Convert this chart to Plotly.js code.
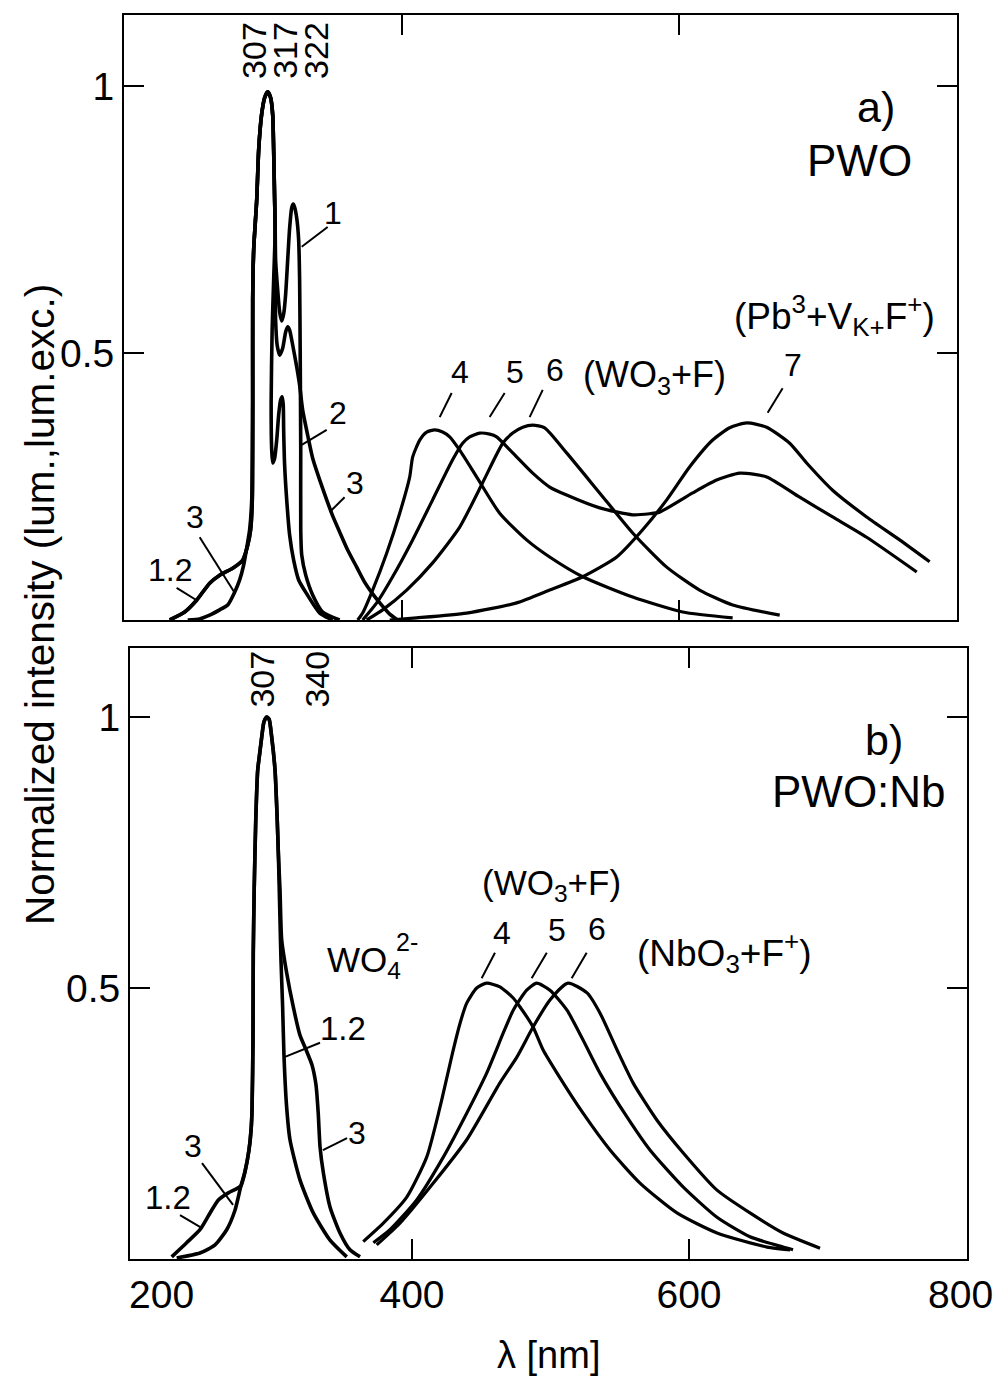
<!DOCTYPE html>
<html>
<head>
<meta charset="utf-8">
<script src="https://cdn.plot.ly/plotly-3.0.1.min.js"></script>
<style>html,body{margin:0;padding:0;background:#fff;} #chart{width:997px;height:1381px;}</style>
</head>
<body>
<div id="chart"></div>
<script>
// ---------- Panel a) PWO : wavelength (nm) / normalized intensity ----------
const topC1X = [232.9,243.7,252.3,261.7,268.9,278.3,285.5,289.1,291.2,292.4,292.7,292.7,293.4,295.6,297.0,299.1,301.3,303.5,305.6,307.1,307.8,308.5,308.9,309.2,310.7,312.1,313.6,315.0,316.4,317.9,319.3,320.8,321.9,322.9,324.4,325.8,326.5,326.9,327.3,327.3,328.0,330.9,335.9,343.1,355.3];
const topC1Y = [0,0.015,0.037,0.069,0.084,0.097,0.112,0.140,0.169,0.225,0.412,0.599,0.693,0.787,0.880,0.946,0.978,0.989,0.978,0.946,0.880,0.787,0.730,0.674,0.618,0.577,0.560,0.573,0.609,0.674,0.734,0.772,0.779,0.773,0.753,0.712,0.637,0.506,0.318,0.169,0.122,0.084,0.047,0.015,0];

const topC2X = [232.9,243.7,252.3,261.7,268.9,278.3,285.5,289.1,291.2,292.4,292.7,292.7,293.4,295.6,297.0,299.1,301.3,303.5,305.6,307.1,307.8,308.5,308.9,307.8,306.7,306.0,306.4,307.1,308.5,310.0,311.4,312.8,313.9,314.7,315.0,315.7,317.2,319.3,322.2,325.8,331.6,341.0,350.3];
const topC2Y = [0,0.015,0.037,0.069,0.084,0.097,0.112,0.140,0.169,0.225,0.412,0.599,0.693,0.787,0.880,0.946,0.978,0.989,0.978,0.946,0.880,0.787,0.730,0.637,0.543,0.412,0.318,0.294,0.303,0.337,0.384,0.412,0.418,0.403,0.356,0.290,0.225,0.159,0.112,0.075,0.049,0.013,0];

const topC3X = [245.9,254.5,261.7,268.9,274.7,279.7,283.3,286.2,288.4,290.5,292.0,292.7,292.7,293.4,295.6,297.0,299.1,301.3,303.5,305.6,307.1,307.8,308.5,308.9,308.9,309.2,310.3,312.1,314.3,316.4,317.9,319.3,321.5,324.4,326.5,328.7,332.3,335.9,341.0,346.0,350.3,355.3,361.1,367.6,373.3,379.1,385.6,391.4,397.1];
const topC3Y = [0,0.002,0.009,0.019,0.028,0.052,0.075,0.103,0.135,0.169,0.225,0.412,0.599,0.693,0.787,0.880,0.946,0.978,0.989,0.978,0.946,0.880,0.787,0.730,0.637,0.562,0.515,0.496,0.509,0.539,0.549,0.543,0.515,0.474,0.440,0.393,0.346,0.303,0.262,0.225,0.195,0.165,0.131,0.099,0.071,0.049,0.028,0.011,0];

const topC4X = [368.3,371.9,379.1,389.2,398.6,405.8,407.9,413.0,418.0,423.8,429.5,434.6,441.8,454.0,470.6,490.0,506.6,530.4,566.4,602.4,638.4];
const topC4Y = [0,0.013,0.056,0.125,0.200,0.268,0.305,0.337,0.352,0.356,0.352,0.343,0.318,0.268,0.200,0.150,0.118,0.081,0.043,0.015,0.004];

const topC5X = [371.9,382.0,393.5,407.9,422.3,436.7,443.9,449.0,456.2,463.4,468.4,480.0,494.4,506.6,518.8,542.6,566.4,578.6,585.8,609.6,626.9,643.5,662.9,686.7,710.4,734.9,771.0];
const topC5Y = [0,0.032,0.081,0.150,0.225,0.300,0.331,0.343,0.350,0.348,0.343,0.313,0.275,0.249,0.234,0.210,0.197,0.199,0.202,0.238,0.262,0.275,0.268,0.230,0.193,0.155,0.090];

const topC6X = [374.8,386.3,403.6,422.3,441.8,458.3,472.8,480.0,487.2,494.4,503.0,518.8,542.6,566.4,590.9,614.6,638.4,672.3];
const topC6Y = [0,0.019,0.056,0.107,0.174,0.257,0.331,0.350,0.361,0.365,0.360,0.313,0.238,0.163,0.099,0.056,0.028,0.009];

const topC7X = [391.4,410.8,446.8,482.8,506.6,530.4,554.9,573.6,590.9,607.5,624.0,636.3,648.5,662.9,679.5,691.7,710.4,734.9,758.7,780.3];
const topC7Y = [0,0.004,0.013,0.032,0.056,0.081,0.118,0.169,0.225,0.287,0.337,0.360,0.369,0.361,0.331,0.294,0.243,0.193,0.150,0.109];

// ---------- Panel b) PWO:Nb ----------
const botC12X = [226.5,237.3,246.9,254.2,260.2,267.4,272.9,276.5,279.4,282.3,283.8,284.5,285.2,285.4,286.1,287.2,288.6,289.9,291.5,293.1,295.1,296.8,298.7,301.1,302.7,303.5,304.0,304.7,305.4,306.6,307.6,309.5,311.9,319.1,328.7,340.8,352.9];
const botC12Y = [0.004,0.030,0.054,0.085,0.109,0.122,0.129,0.135,0.161,0.201,0.238,0.275,0.404,0.565,0.686,0.810,0.902,0.930,0.963,0.991,1.0,0.996,0.963,0.902,0.810,0.749,0.699,0.625,0.552,0.465,0.373,0.280,0.220,0.146,0.085,0.035,0.004];

const botC3X = [230.1,246.9,257.8,266.2,272.2,276.5,279.4,282.3,283.8,284.5,285.2,285.4,286.1,287.2,288.6,289.9,291.5,293.1,295.1,296.8,298.7,301.1,302.7,303.5,304.7,305.9,309.5,314.3,319.1,323.5,327.8,330.7,332.3,333.6,336.0,340.8,348.0,355.2,362.5];
const botC3Y = [0.002,0.011,0.026,0.054,0.090,0.135,0.161,0.201,0.238,0.275,0.404,0.565,0.686,0.810,0.902,0.930,0.963,0.991,1.0,0.996,0.963,0.902,0.810,0.749,0.681,0.589,0.528,0.465,0.413,0.386,0.358,0.321,0.269,0.207,0.159,0.096,0.048,0.017,0.004];

const botC4X = [364.8,379.3,396.2,410.6,420.2,429.8,434.7,439.5,446.7,453.9,463.5,472.9,478.0,487.4,494.6,504.7,523.5,543.0,564.6,591.3,620.2,656.3,672.9];
const botC4Y = [0.032,0.066,0.114,0.188,0.280,0.386,0.435,0.472,0.500,0.509,0.502,0.482,0.465,0.428,0.386,0.343,0.269,0.201,0.140,0.085,0.048,0.022,0.017];

const botC5X = [372.1,384.1,403.4,422.6,439.5,453.9,465.9,473.1,482.8,490.0,499.6,511.9,523.5,535.7,555.2,571.8,595.7,620.2,644.0,667.9,675.1];
const botC5Y = [0.030,0.054,0.109,0.188,0.269,0.343,0.417,0.459,0.496,0.509,0.496,0.459,0.404,0.343,0.262,0.201,0.133,0.077,0.041,0.022,0.017];

const botC6X = [374.5,391.3,415.4,439.5,463.5,475.8,487.4,499.6,512.6,526.4,535.7,548.0,559.6,576.9,595.7,620.2,644.0,667.9,694.6];
const botC6Y = [0.026,0.066,0.140,0.220,0.325,0.373,0.428,0.478,0.509,0.491,0.454,0.386,0.325,0.256,0.196,0.127,0.085,0.048,0.020];

// tick labels
const xTickValsTop = [200, 400, 600, 800];
const xTickValsBot = [400, 600, 800];
const xTickTextBot = ['400', '600', ''];
// the edge labels 200 / 800 sit inside the frame in the original; drawn as text next to the axis
const xEdgeLabels = ['200', '800'];
const xEdgeLabelPos = [218.8, 795.7];
const yTickVals = [0.5, 1];
const yTickText = ['0.5', '1'];

// ---------- traces ----------
const FONT = 'Liberation Sans, Arial, Helvetica, sans-serif';
function tr(x, y, xa, ya, w) {
  return {x: x, y: y, xaxis: xa, yaxis: ya, mode: 'lines', hoverinfo: 'skip',
          line: {color: '#000', width: w, shape: 'spline', smoothing: 0.6}};
}
const data = [
  tr(topC1X, topC1Y, 'x', 'y', 3.6),
  tr(topC2X, topC2Y, 'x', 'y', 3.6),
  tr(topC3X, topC3Y, 'x', 'y', 3.6),
  tr(topC4X, topC4Y, 'x', 'y', 3.2),
  tr(topC5X, topC5Y, 'x', 'y', 3.2),
  tr(topC6X, topC6Y, 'x', 'y', 3.2),
  tr(topC7X, topC7Y, 'x', 'y', 3.2),
  tr(botC12X, botC12Y, 'x2', 'y2', 3.6),
  tr(botC3X, botC3Y, 'x2', 'y2', 3.6),
  tr(botC4X, botC4Y, 'x2', 'y2', 3.2),
  tr(botC5X, botC5Y, 'x2', 'y2', 3.2),
  tr(botC6X, botC6Y, 'x2', 'y2', 3.2)
];

// ---------- annotations ----------
function lab(text, x, y, xr, yr, size, rot) {
  return {text: text, x: x, y: y, xref: xr, yref: yr, showarrow: false,
          xanchor: 'center', yanchor: 'middle', textangle: rot || 0,
          font: {family: FONT, size: size, color: '#000'}};
}
const annotations = [
  lab('307', 294.1, 1.067, 'x', 'y', 34, -90),
  lab('317', 316.4, 1.067, 'x', 'y', 34, -90),
  lab('322', 338.8, 1.067, 'x', 'y', 34, -90),
  lab('1', 350.3, 0.762, 'x', 'y', 32),
  lab('2', 353.9, 0.388, 'x', 'y', 32),
  lab('3', 366.1, 0.257, 'x', 'y', 32),
  lab('3', 250.9, 0.193, 'x', 'y', 32),
  lab('1.2', 232.9, 0.094, 'x', 'y', 32),
  lab('4', 441.8, 0.464, 'x', 'y', 32),
  lab('5', 481.4, 0.464, 'x', 'y', 32),
  lab('6', 510.2, 0.468, 'x', 'y', 32),
  lab('(WO<sub>3</sub>+F)', 582.2, 0.455, 'x', 'y', 36),
  lab('7', 681.6, 0.478, 'x', 'y', 32),
  lab('(Pb<sup>3</sup>+V<sub>K+</sub>F<sup>+</sup>)', 711.9, 0.571, 'x', 'y', 37),
  lab('a)', 741.4, 0.961, 'x', 'y', 43),
  lab('PWO', 729.9, 0.860, 'x', 'y', 44),

  lab('307', 292.1, 1.070, 'x2', 'y2', 34, -90),
  lab('340', 331.8, 1.070, 'x2', 'y2', 34, -90),
  lab('b)', 740.8, 0.958, 'x2', 'y2', 43),
  lab('PWO:Nb', 722.7, 0.862, 'x2', 'y2', 44),
  lab('(WO<sub>3</sub>+F)', 500.4, 0.690, 'x2', 'y2', 35),
  lab('4', 465.0, 0.601, 'x2', 'y2', 32),
  lab('5', 504.7, 0.607, 'x2', 'y2', 32),
  lab('6', 533.6, 0.609, 'x2', 'y2', 32),
  lab('(NbO<sub>3</sub>+F<sup>+</sup>)', 625.3, 0.565, 'x2', 'y2', 37),
  lab('WO<sub>4</sub>', 365.3, 0.548, 'x2', 'y2', 35),
  lab('2-', 396.5, 0.585, 'x2', 'y2', 25),
  lab('1.2', 350.2, 0.426, 'x2', 'y2', 33),
  lab('3', 360.3, 0.232, 'x2', 'y2', 32),
  lab('3', 241.9, 0.208, 'x2', 'y2', 32),
  lab('1.2', 223.8, 0.114, 'x2', 'y2', 33),

  lab(xEdgeLabels[0], xEdgeLabelPos[0], -0.0289, 'x2', 'paper', 39),
  lab(xEdgeLabels[1], xEdgeLabelPos[1], -0.0289, 'x2', 'paper', 39),

  lab('Normalized intensity (lum.,lum.exc.)', -0.0996, 0.5257, 'paper', 'paper', 40.5, -90),
  lab('\u03bb [nm]', 0.503, -0.0772, 'paper', 'paper', 38)
];

// ---------- leader lines ----------
function ln(x0, y0, x1, y1, xr, yr) {
  return {type: 'line', x0: x0, y0: y0, x1: x1, y1: y1, xref: xr, yref: yr,
          line: {color: '#000', width: 2}};
}
const shapes = [
  ln(328.0, 0.699, 346.7, 0.736, 'x', 'y'),
  ln(328.0, 0.328, 346.0, 0.356, 'x', 'y'),
  ln(348.1, 0.202, 358.9, 0.230, 'x', 'y'),
  ln(254.5, 0.155, 279.7, 0.051, 'x', 'y'),
  ln(237.9, 0.060, 252.3, 0.037, 'x', 'y'),
  ln(427.4, 0.380, 436.0, 0.425, 'x', 'y'),
  ln(463.4, 0.380, 474.2, 0.425, 'x', 'y'),
  ln(492.2, 0.380, 501.6, 0.431, 'x', 'y'),
  ln(663.6, 0.388, 674.4, 0.434, 'x', 'y'),
  ln(450.3, 0.518, 459.9, 0.565, 'x2', 'y2'),
  ln(486.4, 0.518, 497.3, 0.565, 'x2', 'y2'),
  ln(515.3, 0.518, 526.1, 0.565, 'x2', 'y2'),
  ln(308.3, 0.373, 333.6, 0.399, 'x2', 'y2'),
  ln(335.7, 0.201, 353.1, 0.223, 'x2', 'y2'),
  ln(248.4, 0.177, 270.8, 0.100, 'x2', 'y2'),
  ln(232.5, 0.081, 248.4, 0.057, 'x2', 'y2')
];

const axCommon = {
  ticks: 'inside', ticklen: 20, tickwidth: 2, tickcolor: '#000',
  showline: true, linewidth: 2, linecolor: '#000', mirror: 'ticks',
  showgrid: false, zeroline: false, fixedrange: true,
  tickfont: {family: FONT, size: 39, color: '#000'}
};

const layout = {
  width: 997, height: 1381,
  margin: {l: 124, r: 30, t: 15, b: 122, pad: 0},
  paper_bgcolor: '#fff', plot_bgcolor: '#fff',
  showlegend: false, hovermode: false,
  font: {family: FONT, color: '#000'},
  xaxis: Object.assign({}, axCommon, {domain: [0, 0.98814], range: [200, 800], anchor: 'y',
          tickmode: 'array', tickvals: xTickValsTop, showticklabels: false}),
  yaxis: Object.assign({}, axCommon, {domain: [0.51367, 1], range: [0, 1.133], anchor: 'x',
          tickmode: 'array', tickvals: yTickVals, ticktext: yTickText, ticklabelstandoff: 0}),
  xaxis2: Object.assign({}, axCommon, {domain: [0.00712, 1], range: [196.4, 800.7], anchor: 'y2',
          tickmode: 'array', tickvals: xTickValsBot, ticktext: xTickTextBot, showticklabels: true,
          ticklabelstandoff: 0}),
  yaxis2: Object.assign({}, axCommon, {domain: [0, 0.49116], range: [0, 1.1273], anchor: 'x2',
          tickmode: 'array', tickvals: yTickVals, ticktext: yTickText, ticklabelstandoff: 0}),
  annotations: annotations,
  shapes: shapes
};

Plotly.newPlot('chart', data, layout, {staticPlot: true, displayModeBar: false});
</script>
</body>
</html>
